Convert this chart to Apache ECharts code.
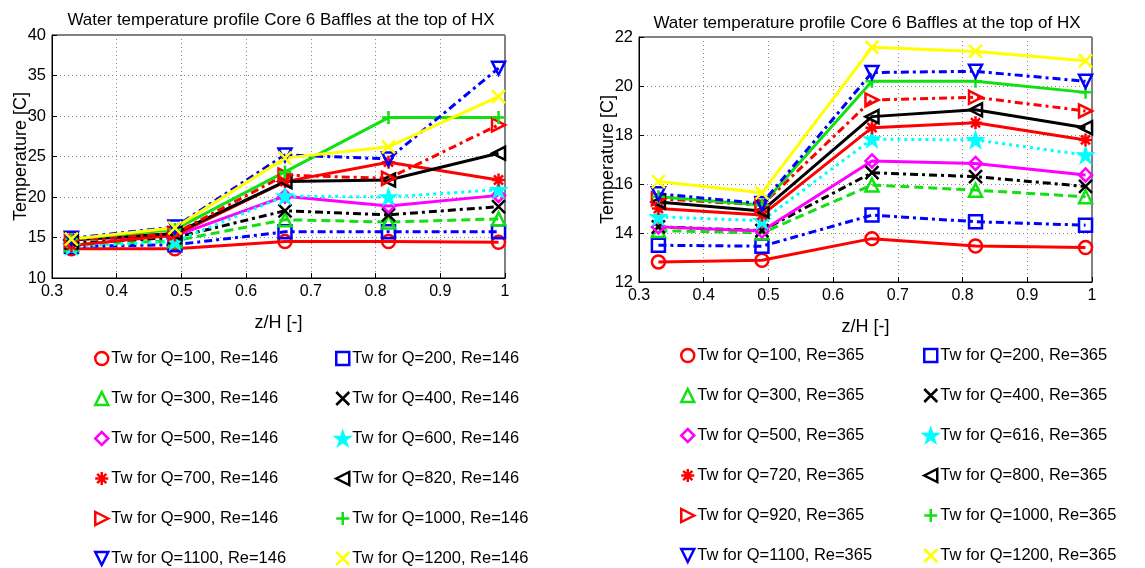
<!DOCTYPE html>
<html>
<head>
<meta charset="UTF-8">
<title>Water temperature profile Core 6 Baffles</title>
<script src="https://cdn.jsdelivr.net/npm/echarts@6/dist/echarts.min.js"></script>
<style>
html, body { margin: 0; height: 100%; background: #fff; }
#main { width: 1145px; height: 568px; }
</style>
</head>
<body>
<div id="main"></div>
<script type="text/javascript">
// positions along the core
var zH = [0.33, 0.49, 0.66, 0.82, 0.99];

// Re = 146 (left plot)
var leftQ = ['100', '200', '300', '400', '500', '600', '700', '820', '900', '1000', '1100', '1200'];
var left100 = [13.6, 13.6, 14.5, 14.5, 14.4];
var left200 = [13.9, 14.1, 15.7, 15.7, 15.7];
var left300 = [14.1, 14.6, 17.2, 16.9, 17.3];
var left400 = [14.3, 15.0, 18.3, 17.8, 18.8];
var left500 = [14.8, 15.2, 20.1, 18.9, 20.2];
var left600 = [13.9, 14.5, 20.1, 20.0, 20.9];
var left700 = [14.0, 15.3, 21.9, 24.3, 22.1];
var left820 = [14.7, 15.5, 21.9, 22.1, 25.4];
var left900 = [14.7, 15.5, 22.7, 22.3, 28.9];
var left1000 = [14.8, 16.0, 23.1, 29.8, 29.8];
var left1100 = [14.9, 16.3, 25.2, 24.7, 35.9];
var left1200 = [14.8, 16.2, 24.8, 26.2, 32.4];

// Re = 365 (right plot)
var rightQ = ['100', '200', '300', '400', '500', '616', '720', '800', '920', '1000', '1100', '1200'];
var right100 = [12.82, 12.89, 13.77, 13.47, 13.41];
var right200 = [13.50, 13.46, 14.73, 14.46, 14.32];
var right300 = [14.10, 14.00, 15.96, 15.75, 15.48];
var right400 = [14.25, 14.10, 16.46, 16.30, 15.90];
var right500 = [14.25, 14.08, 16.94, 16.84, 16.37];
var right616 = [14.66, 14.50, 17.83, 17.80, 17.18];
var right720 = [15.00, 14.73, 18.30, 18.50, 17.80];
var right800 = [15.27, 14.90, 18.75, 19.03, 18.30];
var right920 = [15.40, 15.14, 19.43, 19.54, 18.98];
var right1000 = [15.48, 15.14, 20.19, 20.19, 19.74];
var right1100 = [15.60, 15.20, 20.55, 20.60, 20.19];
var right1200 = [16.10, 15.64, 21.58, 21.41, 21.03];

var leftValues = [left100, left200, left300, left400, left500, left600, left700, left820, left900, left1000, left1100, left1200];
var rightValues = [right100, right200, right300, right400, right500, right616, right720, right800, right920, right1000, right1100, right1200];

// matlab-like line specs, same order for both plots
var FONT = 'Liberation Sans, Arial, sans-serif';
var DASH = [9, 5];
var DOT = [3, 4];
var DASHDOT = [8, 4, 3, 4];
var specs = [
    { color: '#ff0000', line: 'solid', symbol: 'circle', fill: false },
    { color: '#0000ff', line: DASHDOT, symbol: 'rect', fill: false },
    { color: '#11e011', line: DASH, symbol: 'triangle', fill: false },
    { color: '#000000', line: DASHDOT, symbol: 'path://M0,0L10,10M10,0L0,10', fill: false },
    { color: '#ff00ff', line: 'solid', symbol: 'diamond', fill: false },
    { color: '#00ffff', line: DOT, symbol: 'path://M5,0L6.2,3.6L10,3.6L6.9,5.9L8.1,9.5L5,7.3L1.9,9.5L3.1,5.9L0,3.6L3.8,3.6Z', fill: true },
    { color: '#ff0000', line: 'solid', symbol: 'path://M5,0L5,10M0,5L10,5M1.5,1.5L8.5,8.5M8.5,1.5L1.5,8.5', fill: false },
    { color: '#000000', line: 'solid', symbol: 'path://M0,5L10,0L10,10Z', fill: false },
    { color: '#ff0000', line: DASHDOT, symbol: 'path://M10,5L0,0L0,10Z', fill: false },
    { color: '#11e011', line: 'solid', symbol: 'path://M5,0L5,10M0,5L10,5', fill: false },
    { color: '#0000ff', line: DASHDOT, symbol: 'path://M0,0L10,0L5,10Z', fill: false },
    { color: '#ffff00', line: 'solid', symbol: 'path://M0,0L10,10M10,0L0,10', fill: false }
];

function label(q, re) { return 'Tw for Q=' + q + ', Re=' + re; }

var series = [];
var legendData = [[], [], [], []];

function addPlot(values, qs, re, idx) {
    values.forEach(function (vals, i) {
        var s = specs[i];
        var name = label(qs[i], re);
        var itemStyle = {
            color: s.fill ? s.color : 'transparent',
            borderColor: s.color,
            borderWidth: 2.5
        };
        series.push({
            name: name,
            type: 'line',
            xAxisIndex: idx,
            yAxisIndex: idx,
            data: vals.map(function (v, k) { return [zH[k], v]; }),
            symbol: s.symbol,
            symbolSize: 13,
            showAllSymbol: true,
            itemStyle: itemStyle,
            lineStyle: { color: s.color, width: 3, type: s.line },
            emphasis: { disabled: true },
            animation: false
        });
        legendData[idx * 2 + (i % 2)].push({ name: name, icon: s.symbol, itemStyle: itemStyle });
    });
}

addPlot(leftValues, leftQ, 146, 0);
addPlot(rightValues, rightQ, 365, 1);

function legend(data, left, top) {
    return {
        data: data, orient: 'vertical', left: left, top: top, height: 230,
        padding: 0,
        itemWidth: 13, itemHeight: 13, itemGap: 23,
        selectedMode: false,
        textStyle: { fontSize: 16.5, color: '#000', fontFamily: FONT, padding: [0, 0, 0, -2] }
    };
}

function xAxis(idx) {
    return {
        gridIndex: idx, type: 'value', min: 0.3, max: 1, interval: 0.1,
        name: 'z/H [-]', nameLocation: 'middle', nameGap: 36, nameMoveOverlap: false,
        nameTextStyle: { fontSize: 18, color: '#000', fontFamily: FONT },
        axisLine: { onZero: false, lineStyle: { color: '#000' } },
        axisTick: { inside: true, length: 5, lineStyle: { color: '#000' } },
        axisLabel: { fontSize: 16, color: '#000', fontFamily: FONT, margin: 6,
            formatter: function (v) { return String(+v.toFixed(1)); } },
        splitLine: { show: true, lineStyle: { color: '#888', type: [1, 3] } }
    };
}

function yAxis(idx, min, max, step) {
    return {
        gridIndex: idx, type: 'value', min: min, max: max, interval: step,
        name: 'Temperature [C]', nameLocation: 'middle', nameGap: 22, nameMoveOverlap: false,
        nameTextStyle: { fontSize: 18, color: '#000', fontFamily: FONT },
        axisLine: { onZero: false, lineStyle: { color: '#000' } },
        axisTick: { inside: true, length: 5, lineStyle: { color: '#000' } },
        axisLabel: { fontSize: 16.5, color: '#000', fontFamily: FONT, margin: 6 },
        splitLine: { show: true, lineStyle: { color: '#888', type: [1, 3] } }
    };
}

var titleText = 'Water temperature profile Core 6 Baffles at the top of HX';

var option = {
    animation: false,
    title: [
        { text: titleText, left: 276, top: 7, textAlign: 'center',
          textStyle: { fontSize: 17, fontWeight: 'normal', color: '#000', fontFamily: FONT } },
        { text: titleText, left: 862, top: 10, textAlign: 'center',
          textStyle: { fontSize: 17, fontWeight: 'normal', color: '#000', fontFamily: FONT } }
    ],
    grid: [
        { left: 52, top: 35, width: 453, height: 243, show: true, borderColor: '#000', borderWidth: 1 },
        { left: 639, top: 37, width: 453, height: 245, show: true, borderColor: '#000', borderWidth: 1 }
    ],
    xAxis: [xAxis(0), xAxis(1)],
    yAxis: [yAxis(0, 10, 40, 5), yAxis(1, 12, 22, 2)],
    legend: [
        legend(legendData[0], 94, 350),
        legend(legendData[1], 335, 350),
        legend(legendData[2], 680, 347),
        legend(legendData[3], 923, 347)
    ],
    series: series
};

var chart = echarts.init(document.getElementById('main'));
chart.setOption(option);
</script>
</body>
</html>
